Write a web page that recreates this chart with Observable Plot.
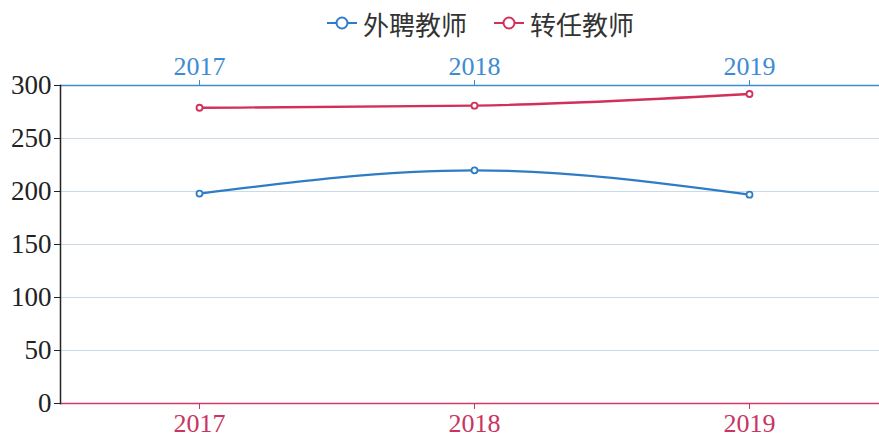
<!DOCTYPE html>
<html><head><meta charset="utf-8">
<script src="https://cdn.jsdelivr.net/npm/d3@7"></script>
<script src="https://cdn.jsdelivr.net/npm/@observablehq/plot@0.6"></script>
<style>
body{margin:0;background:#fff;}
#legend{height:45px;position:relative;font-family:"Noto Sans CJK SC",sans-serif;font-size:26px;color:#333;}
.item{position:absolute;top:5px;display:flex;align-items:center;height:36px;}
.item svg{margin-right:6px;}
</style></head>
<body>
<div id="legend"></div>
<div id="chart"></div>
<script>
const years = ["2017", "2018", "2019"];
const seriesNames = ["外聘教师", "转任教师"];
const waipin = [198, 220, 197];
const zhuanren = [279, 281, 292];
const colors = ["#2f7cc6", "#d2305a"];
const yTicks = [0, 50, 100, 150, 200, 250, 300];

const data = [];
years.forEach((y, i) => {
  data.push({year: y, value: waipin[i], series: seriesNames[0]});
  data.push({year: y, value: zhuanren[i], series: seriesNames[1]});
});

// legend
const legend = document.getElementById("legend");
const lefts = [327, 494];
seriesNames.forEach((n, i) => {
  const d = document.createElement("div");
  d.className = "item";
  d.style.left = lefts[i] + "px";
  d.innerHTML = `<svg width="30" height="16"><line x1="0" y1="8" x2="30" y2="8" stroke="${colors[i]}" stroke-width="2"/><circle cx="15" cy="8" r="5.5" fill="#fff" stroke="${colors[i]}" stroke-width="2"/></svg><span>${n}</span>`;
  legend.appendChild(d);
});

const chart = Plot.plot({
  width: 879,
  height: 393,
  marginTop: 40,
  marginBottom: 35,
  marginLeft: 60,
  marginRight: 0,
  style: {fontFamily: "'Liberation Serif', serif", fontSize: "26px", background: "#fff"},
  x: {type: "point", domain: years, range: [198, 749], padding: 0, align: 0.5},
  y: {domain: [0, 300], ticks: yTicks},
  color: {domain: seriesNames, range: colors},
  marks: [
    Plot.gridY(yTicks.filter(t => t > 0 && t < 300), {stroke: "#c9dbe6", strokeOpacity: 1, strokeWidth: 1}),
    Plot.ruleY([300], {stroke: "#3d8bd3", strokeWidth: 1.5}),
    Plot.ruleY([0], {stroke: "#d23a66", strokeWidth: 1.5}),
    Plot.frame({anchor: "left", stroke: "#222", strokeWidth: 1.5}),
    Plot.axisX({anchor: "top", color: "#3d8bd3", tickSize: 6, tickPadding: 5, fontSize: 26, label: null}),
    Plot.axisX({anchor: "bottom", color: "#c93462", tickSize: 6, tickPadding: 4, fontSize: 26, label: null}),
    Plot.axisY({ticks: yTicks, tickSize: 6, tickPadding: 3, color: "#222", fontSize: 27, label: null}),
    Plot.line(data, {x: "year", y: "value", z: "series", stroke: "series", strokeWidth: 2.3, curve: "monotone-x"}),
    Plot.dot(data, {x: "year", y: "value", stroke: "series", fill: "#fff", r: 3, strokeWidth: 1.8})
  ]
});
document.getElementById("chart").appendChild(chart);
</script>
</body></html>
